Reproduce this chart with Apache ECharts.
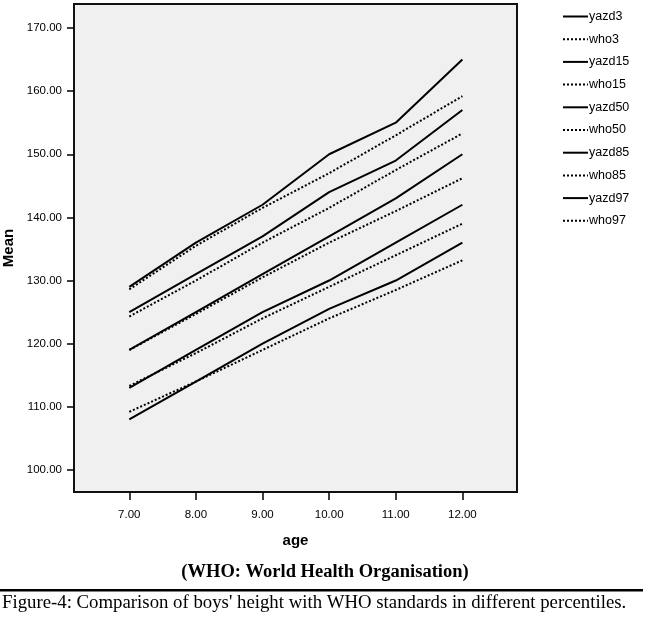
<!DOCTYPE html>
<html>
<head>
<meta charset="utf-8">
<script src="https://cdn.jsdelivr.net/npm/echarts@6/dist/echarts.min.js"></script>
<style>
html,body{margin:0;padding:0;background:#fff;}
#c{width:650px;height:618px;}
</style>
</head>
<body>
<div id="c"></div>
<script>
var ages = [7, 8, 9, 10, 11, 12];
var xTicks = [7, 8, 9, 10, 11, 12];
var yTicks = [100, 110, 120, 130, 140, 150, 160, 170];
var yazd3  = [108, 114, 120, 125.5, 130, 136];
var who3   = [109.2, 114, 119, 124, 128.5, 133.2];
var yazd15 = [113, 119, 125, 130, 136, 142];
var who15  = [113.3, 118.5, 124, 129, 134, 139];
var yazd50 = [119, 125, 131, 137, 143, 150];
var who50  = [119, 124.7, 130.5, 136, 141, 146.2];
var yazd85 = [125, 131, 137, 144, 149, 157];
var who85  = [124.3, 130, 136, 141.5, 147.5, 153.3];
var yazd97 = [129, 136, 142, 150, 155, 165];
var who97  = [128.6, 135.5, 141.5, 147, 153, 159.2];

var seriesDefs = [
  ['yazd3', yazd3, 'solid'], ['who3', who3, 'dotted'],
  ['yazd15', yazd15, 'solid'], ['who15', who15, 'dotted'],
  ['yazd50', yazd50, 'solid'], ['who50', who50, 'dotted'],
  ['yazd85', yazd85, 'solid'], ['who85', who85, 'dotted'],
  ['yazd97', yazd97, 'solid'], ['who97', who97, 'dotted']
];

function pairs(vals){ return ages.map(function(a,i){ return [a, vals[i]]; }); }

var series = seriesDefs.map(function(d){
  return {
    name: d[0], type: 'line', data: pairs(d[1]),
    symbol: 'none', showSymbol: false, animation: false,
    lineStyle: { color: '#000', width: 2, type: d[2] === 'solid' ? 'solid' : [2, 2] },
    itemStyle: { color: '#000' }
  };
});

var chart = echarts.init(document.getElementById('c'), null, {renderer: 'canvas'});
chart.setOption({
  animation: false,
  backgroundColor: '#fff',
  grid: {
    left: 74, top: 4, right: 133, bottom: 126,
    show: true, backgroundColor: '#f0f0f0', borderColor: '#111', borderWidth: 2,
    containLabel: false, outerBoundsMode: 'none'
  },
  legend: {
    orient: 'vertical', left: 562, top: 10, padding: 0,
    itemWidth: 25, itemHeight: 12, itemGap: 9.7,
    itemStyle: { opacity: 0 },
    textStyle: { fontFamily: 'Liberation Sans, Arial', fontSize: 12.5, color: '#000', padding: [0,0,0,-4] },
    data: seriesDefs.map(function(d){ return d[0]; })
  },
  xAxis: {
    type: 'value', min: 6.17, max: 12.82,
    name: 'age', nameLocation: 'middle', nameGap: 41,
    nameTextStyle: { fontFamily: 'Liberation Sans, Arial', fontSize: 15, fontWeight: 'bold', color: '#000' },
    axisLine: { show: false },
    axisTick: { show: true, inside: false, length: 8, customValues: xTicks, lineStyle: { color: '#000', width: 1.5 } },
    axisLabel: { customValues: xTicks, margin: 17, fontFamily: 'Liberation Sans, Arial', fontSize: 11.5, color: '#000',
      formatter: function(v){ return v.toFixed(2); } },
    splitLine: { show: false }
  },
  yAxis: {
    type: 'value', min: 96.5, max: 173.8,
    name: 'Mean', nameLocation: 'middle', nameGap: 53, nameRotate: 90,
    nameTextStyle: { fontFamily: 'Liberation Sans, Arial', fontSize: 15, fontWeight: 'bold', color: '#000' },
    axisLine: { show: false },
    axisTick: { show: true, inside: false, length: 7, customValues: yTicks, lineStyle: { color: '#000', width: 1.5 } },
    axisLabel: { customValues: yTicks, margin: 12, fontFamily: 'Liberation Sans, Arial', fontSize: 11.5, color: '#000',
      formatter: function(v){ return v.toFixed(2); } },
    splitLine: { show: false }
  },
  graphic: [
    { type: 'text', left: 'center', top: 563, style: { text: '(WHO: World Health Organisation)', font: 'bold 18.5px "Liberation Serif", "Times New Roman", serif', fill: '#000' } },
    { type: 'rect', shape: { x: 0, y: 589, width: 643, height: 2.5 }, style: { fill: '#000' } },
    { type: 'text', left: 2, top: 594, style: { text: "Figure-4: Comparison of boys' height with WHO standards in different percentiles.", font: '18.8px "Liberation Serif", "Times New Roman", serif', fill: '#000' } }
  ],
  series: series
});
</script>
</body>
</html>
